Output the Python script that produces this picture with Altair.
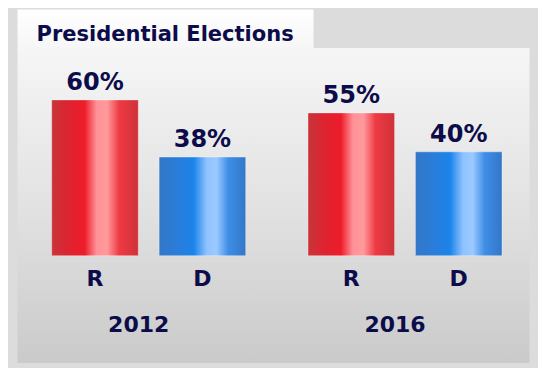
import altair as alt
import pandas as pd

# ---- data ----
years = ["2012", "2012", "2016", "2016"]
parties = ["R", "D", "R", "D"]
values = [60, 38, 55, 40]
title_text = "Presidential Elections"

df = pd.DataFrame({"year": years, "party": parties, "value": values})
df["label"] = df["value"].astype(str) + "%"

TEXT = "#0c0c4a"
FONT = "DejaVu Sans"

red_grad = alt.Gradient(
    gradient="linear", x1=0, x2=1, y1=0, y2=0,
    stops=[
        alt.GradientStop(color="#c8353a", offset=0),
        alt.GradientStop(color="#dc2430", offset=0.18),
        alt.GradientStop(color="#ee1c2a", offset=0.38),
        alt.GradientStop(color="#ff9298", offset=0.52),
        alt.GradientStop(color="#ff9a9c", offset=0.64),
        alt.GradientStop(color="#ee3a44", offset=0.78),
        alt.GradientStop(color="#cf3238", offset=1),
    ],
)
blue_grad = alt.Gradient(
    gradient="linear", x1=0, x2=1, y1=0, y2=0,
    stops=[
        alt.GradientStop(color="#3477c6", offset=0),
        alt.GradientStop(color="#2a7dd8", offset=0.2),
        alt.GradientStop(color="#1b84ea", offset=0.4),
        alt.GradientStop(color="#8fc2ff", offset=0.55),
        alt.GradientStop(color="#9ccaff", offset=0.66),
        alt.GradientStop(color="#3e8ee6", offset=0.8),
        alt.GradientStop(color="#3377c8", offset=1),
    ],
)
panel_grad = alt.Gradient(
    gradient="linear", x1=0, x2=0, y1=0, y2=1,
    stops=[
        alt.GradientStop(color="#f6f6f6", offset=0),
        alt.GradientStop(color="#e2e2e2", offset=0.5),
        alt.GradientStop(color="#cacaca", offset=1),
    ],
)
tab_grad = alt.Gradient(
    gradient="linear", x1=0, x2=0, y1=0, y2=1,
    stops=[
        alt.GradientStop(color="#ffffff", offset=0),
        alt.GradientStop(color="#f6f6f6", offset=1),
    ],
)

W, H = 512, 315

xenc = alt.X("year:N", axis=None,
             scale=alt.Scale(range=[34.2, 484.5], paddingInner=0.243, paddingOuter=0))
xoff = alt.XOffset("party:N", sort=["R", "D"],
                   scale=alt.Scale(paddingInner=0.194, paddingOuter=0))
yenc = alt.Y("value:Q", axis=None, scale=alt.Scale(domain=[0, 80], range=[207.7, 0]))

one = alt.Data(values=[{"a": 1}])

panel = alt.Chart(one).mark_rect(fill=panel_grad).encode(
    x=alt.value(0), x2=alt.value(W), y=alt.value(0), y2=alt.value(H)
)
tab = alt.Chart(one).mark_rect(fill=tab_grad).encode(
    x=alt.value(0), x2=alt.value(296), y=alt.value(-38.5), y2=alt.value(1)
)
title = alt.Chart(one).mark_text(
    text=title_text, align="left", baseline="alphabetic", font=FONT,
    fontSize=21, fontWeight="bold", color=TEXT
).encode(x=alt.value(19), y=alt.value(-7))

base = alt.Chart(df)

bars_r = base.transform_filter(alt.datum.party == "R").mark_bar(
    fill=red_grad, stroke="#ffffff", strokeOpacity=0.35, strokeWidth=1
).encode(x=xenc, xOffset=xoff, y=yenc, y2=alt.datum(0))
bars_d = base.transform_filter(alt.datum.party == "D").mark_bar(
    fill=blue_grad, stroke="#ffffff", strokeOpacity=0.35, strokeWidth=1
).encode(x=xenc, xOffset=xoff, y=yenc, y2=alt.datum(0))

vlabels = base.mark_text(
    baseline="alphabetic", dy=-10, font=FONT, fontSize=24, fontWeight="bold", color=TEXT
).encode(x=xenc, xOffset=xoff, y=yenc, text="label:N")

plabels = base.mark_text(
    baseline="middle", dy=23, font=FONT, fontSize=22, fontWeight="bold", color=TEXT
).encode(x=xenc, xOffset=xoff, y=alt.datum(0), text="party:N")

ylabels = alt.Chart(df).transform_aggregate(
    count="count()", groupby=["year"]
).mark_text(
    baseline="middle", dy=69, dx=-10, font=FONT, fontSize=22, fontWeight="bold", color=TEXT
).encode(x=xenc, y=alt.datum(0), text="year:N")

chart = alt.layer(panel, tab, bars_r, bars_d, vlabels, plabels, ylabels, title).properties(
    width=W, height=H,
    background="#dcdcdc",
    autosize=alt.AutoSizeParams(type="none"),
    padding={"left": 9.5, "top": 40, "right": 8, "bottom": 5},
).configure_view(stroke=None)

chart.save("out.html", embed_options={"renderer": "svg", "actions": False})
